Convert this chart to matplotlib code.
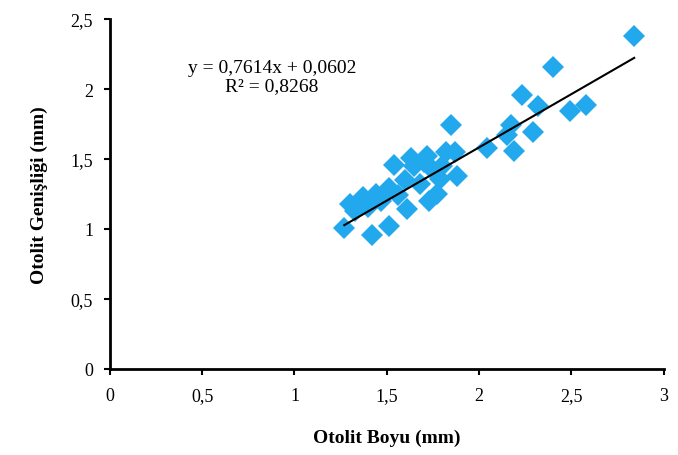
import matplotlib.pyplot as plt
from matplotlib.ticker import FuncFormatter

# Otolit boyu (mm) ve otolit genisligi (mm)
otolit_boyu = [2.84, 2.40, 2.23, 2.32, 2.49, 2.58, 2.175, 2.29, 2.19, 2.04, 2.15, 1.87, 1.85,
               1.30, 1.27, 1.42, 1.51, 1.61, 1.54, 1.63, 1.72, 1.82, 1.37, 1.44, 1.51, 1.60,
               1.68, 1.77, 1.73, 1.88, 1.79, 1.33, 1.47, 1.56, 1.65, 1.75, 1.80, 1.70, 1.40]
otolit_genisligi = [2.38, 2.155, 1.96, 1.88, 1.845, 1.886, 1.74, 1.69, 1.56, 1.58, 1.67, 1.55, 1.74,
                    1.18, 1.01, 0.96, 1.02, 1.14, 1.46, 1.51, 1.52, 1.55, 1.23, 1.25, 1.29, 1.35,
                    1.32, 1.25, 1.20, 1.38, 1.36, 1.13, 1.20, 1.24, 1.45, 1.42, 1.45, 1.48, 1.16]

egim = 0.7614
kesisim = 0.0602
r2 = 0.8268

x_ticks = [0, 0.5, 1, 1.5, 2, 2.5, 3]
y_ticks = [0, 0.5, 1, 1.5, 2, 2.5]

plt.rcParams['font.family'] = ['Liberation Serif', 'DejaVu Serif']

fig = plt.figure(figsize=(6.78, 4.56), dpi=100)
ax = fig.add_axes([0.162, 0.189, 0.817, 0.767])

ax.plot(otolit_boyu, otolit_genisligi, 'D', color='#22a8ec', markersize=11, markeredgewidth=0,
        zorder=2)

# trend cizgisi
x0, x1 = min(otolit_boyu), max(otolit_boyu)
ax.plot([x0, x1], [egim * x0 + kesisim, egim * x1 + kesisim], color='black', lw=1.5, zorder=3)

ax.text(0.877, 2.09, 'y = 0,7614x + 0,0602\nR² = 0,8268', ha='center', va='center',
        fontsize=14, linespacing=1.05)

ax.set_xlim(0, 3)
ax.set_ylim(0, 2.5)
ax.set_xticks(x_ticks)
ax.set_yticks(y_ticks)
fmt = FuncFormatter(lambda v, p: ('%g' % v).replace('.', ','))
ax.xaxis.set_major_formatter(fmt)
ax.yaxis.set_major_formatter(fmt)
ax.tick_params(labelsize=13, width=1.5, length=4, color='black')
ax.tick_params(axis='x', pad=9)
ax.tick_params(axis='y', pad=8)

for s in ['top', 'right']:
    ax.spines[s].set_visible(False)
for s in ['left', 'bottom']:
    ax.spines[s].set_linewidth(2)

ax.set_xlabel('Otolit Boyu (mm)', fontsize=14, fontweight='bold', labelpad=18)
ax.set_ylabel('Otolit Genişliği (mm)', fontsize=14, fontweight='bold', labelpad=16)

fig.savefig('out.png', dpi=100)
